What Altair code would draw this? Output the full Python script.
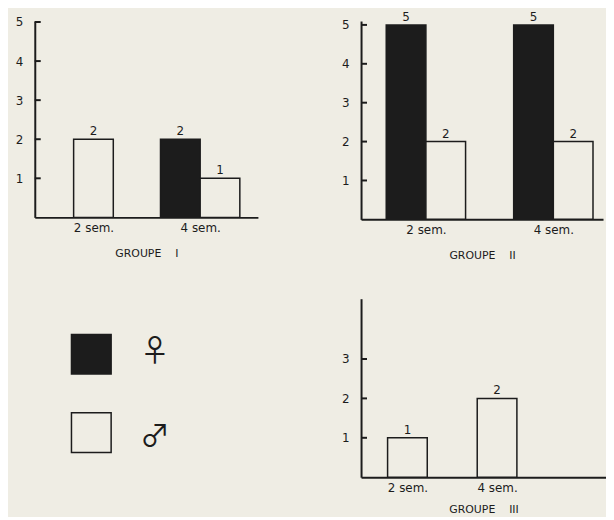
import altair as alt
import pandas as pd

# ---- data -------------------------------------------------------------
categories = ["2 sem.", "4 sem."]
group_titles = [
    "GROUPE\u00a0\u00a0\u00a0\u00a0I",
    "GROUPE\u00a0\u00a0\u00a0\u00a0II",
    "GROUPE\u00a0\u00a0\u00a0\u00a0III",
]
sexes = ["♀", "♂"]
female = [[0, 2], [5, 5], [0, 0]]   # black bars
male = [[2, 1], [2, 2], [1, 2]]     # white bars
y_ticks = [[1, 2, 3, 4, 5], [1, 2, 3, 4, 5], [1, 2, 3]]

# ---- style / layout ---------------------------------------------------
BG = "#efede4"
INK = "#1c1c1c"
FONT = "DejaVu Sans"
SYM_FONT = "Noto Sans CJK JP"
panel_w = [225, 244, 247]
panel_h = [198, 200, 180]
x_dom = [[0.4965, 2.4947], [0.530, 2.351], [0.538, 3.160]]
y_top = [5.025, 5.10, 4.53]
title_pad = [14, 14, 11]
BAR_W = 40

fill = alt.Fill("sex:N", scale=alt.Scale(domain=sexes, range=[INK, BG]), legend=None)

label_expr = " : ".join(
    f"datum.value == {i + 1} ? '{c}'" for i, c in enumerate(categories)
) + " : ''"


def panel_df(g):
    rows = []
    for ci, cat in enumerate(categories):
        vals = {"♀": female[g][ci], "♂": male[g][ci]}
        shown = [s for s in sexes if vals[s] > 0]
        for k, s in enumerate(shown):
            off = 0 if len(shown) == 1 else (-1 if k == 0 else 1)
            rows.append({"cat": cat, "pos": ci + 1, "sex": s, "value": vals[s], "off": off})
    return pd.DataFrame(rows)


def panel(g):
    df = panel_df(g)
    base = alt.Chart(df)
    x = alt.X(
        "pos:Q",
        scale=alt.Scale(domain=x_dom[g], nice=False, zero=False),
        axis=alt.Axis(
            values=[i + 1 for i in range(len(categories))],
            labelExpr=label_expr,
            title=group_titles[g],
            ticks=False,
            grid=False,
            domainWidth=2,
            domainColor=INK,
            labelPadding=5,
            labelFontSize=12,
            labelColor=INK,
            labelFont=FONT,
            labelFlush=False,
            titleFontSize=11,
            titleFontWeight="normal",
            titleColor=INK,
            titleFont=FONT,
            titlePadding=title_pad[g],
        ),
    )
    y = alt.Y(
        "value:Q",
        scale=alt.Scale(domain=[0, y_top[g]], nice=False, zero=True),
        axis=alt.Axis(
            values=y_ticks[g],
            title="",
            ticks=False,
            grid=False,
            domainWidth=2,
            domainColor=INK,
            labelPadding=12,
            labelFontSize=12,
            labelColor=INK,
            labelFont=FONT,
            labelFlush=False,
        ),
    )
    layers = []
    for off in (-1, 0, 1):
        sub = base.transform_filter(alt.datum.off == off)
        layers.append(
            sub.mark_bar(
                orient="vertical", width=BAR_W, xOffset=off * BAR_W / 2,
                stroke=INK, strokeWidth=1.5,
            ).encode(x=x, y=y, fill=fill)
        )
        layers.append(
            sub.mark_text(
                xOffset=off * BAR_W / 2, dy=-8, fontSize=12, font=FONT, color=INK,
                baseline="middle",
            ).encode(x="pos:Q", y="value:Q", text="value:Q")
        )
    ticks = alt.Chart(pd.DataFrame({"value": y_ticks[g]})).mark_rule(
        color=INK, strokeWidth=2
    ).encode(y="value:Q", x=alt.value(0), x2=alt.value(6))
    layers.append(ticks)
    return alt.layer(*layers).properties(width=panel_w[g], height=panel_h[g])


# ---- legend cell ------------------------------------------------------
leg_df = pd.DataFrame({"sex": sexes})
squares = alt.Chart(leg_df).mark_square(
    size=BAR_W * BAR_W, stroke=INK, strokeWidth=1.5, opacity=1
).encode(
    x=alt.value(57),
    y=alt.Y("sex:N", scale=alt.Scale(type="point", domain=sexes, range=[56, 135], padding=0), axis=None),
    fill=fill,
)
symbols = alt.Chart(leg_df).mark_text(
    align="left", baseline="middle", fontSize=30, font=SYM_FONT, color=INK,
    fontWeight=400,
).encode(
    x=alt.value(106),
    y=alt.Y("sex:N", scale=alt.Scale(type="point", domain=sexes, range=[54, 140], padding=0), axis=None),
    text="sex:N",
)
legend = alt.layer(squares, symbols).resolve_scale(y="independent").properties(width=222, height=180)

chart = alt.concat(
    panel(0), panel(1), legend, panel(2),
    columns=2,
    spacing={"row": 80, "column": 104},
    align="none",
    bounds="flush",
).properties(
    padding={"left": 7, "top": 0, "right": 0, "bottom": 0},
    background=BG,
).configure_view(strokeWidth=0)

chart.save("out.html", embed_options={"renderer": "svg", "actions": False})
